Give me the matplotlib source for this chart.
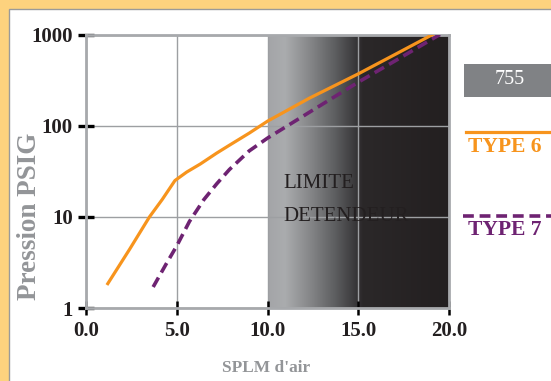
import numpy as np
import matplotlib
matplotlib.use("Agg")
import matplotlib.pyplot as plt
from matplotlib.colors import LinearSegmentedColormap
from matplotlib.patches import Rectangle
from matplotlib.lines import Line2D

# data
type6_x = [1.2, 2.4, 3.5, 4.2, 4.9, 5.55, 6.3, 7.2, 7.9, 9.0, 10.0, 12.3, 15.0, 17.0, 19.1]
type6_y = [1.85, 4.4, 10, 15.5, 25, 31, 38, 50, 61, 83, 112, 200, 370, 600, 1000]
type7_x = [3.7, 4.4, 5.0, 5.7, 6.5, 7.2, 7.9, 9.0, 10.0, 12.3, 15.0, 17.0, 19.5]
type7_y = [1.7, 3.0, 4.8, 8.9, 15.5, 23, 33, 53, 73, 140, 300, 510, 1000]

xticks = [0, 5, 10, 15, 20]
xlabels = ["0.0", "5.0", "10.0", "15.0", "20.0"]
yticks = [1, 10, 100, 1000]
ylabels = ["1", "10", "100", "1000"]
zone_start, zone_end = 10, 20

orange = "#f7941d"
purple = "#6e2372"
grey_txt = "#939598"
serif = ["Liberation Serif", "DejaVu Serif"]

plt.rcParams["font.family"] = serif

W, H = 551, 381
fig = plt.figure(figsize=(W / 100, H / 100), dpi=100)
fig.patch.set_facecolor("#fdd27e")
# white panel inside the orange frame
fig.patches.append(Rectangle((8.5 / W, -0.1), 1.2, 1.1 - 8.5 / H,
                             transform=fig.transFigure, facecolor="white",
                             edgecolor="#9a9a9a", linewidth=1, zorder=-5))

ax = fig.add_axes([86 / W, 1 - 308 / H, 363 / W, 273.5 / H])
ax.set_zorder(1)
ax.set_yscale("log")
ax.set_xlim(0, 20)
ax.set_ylim(1, 1000)

# shaded "limite detendeur" zone
cmap = LinearSegmentedColormap.from_list(
    "zone", [(0.0, "#a4a5a8"), (0.09, "#aaacae"), (0.23, "#858688"),
             (0.37, "#5c5d5f"), (0.47, "#3c3b3d"), (0.52, "#2b2829"),
             (1.0, "#231f20")])
grad = np.linspace(0, 1, 256).reshape(1, -1)
ax.imshow(grad, cmap=cmap, aspect="auto", extent=(zone_start, zone_end, 0, 1),
          transform=ax.get_xaxis_transform(), zorder=0, interpolation="bilinear")

ax.grid(True, which="major", color="#9d9fa2", linewidth=1, zorder=1)
ax.set_axisbelow(True)

ax.plot(type7_x, type7_y, color=purple, linewidth=2.6, dashes=(3.0, 1.6),
        zorder=3, solid_capstyle="butt")
ax.plot(type6_x, type6_y, color=orange, linewidth=2.3, zorder=4)

ax.text(10.85, 23.5, "LIMITE", color="#231f20", fontsize=15, va="center",
        ha="left", zorder=5)
ax.text(10.85, 10.1, "DETENDEUR", color="#231f20", fontsize=15, va="center",
        ha="left", zorder=5)

for s in ax.spines.values():
    s.set_color("#a7a9ac")
    s.set_linewidth(2)

ax.set_xticks(xticks)
ax.set_xticklabels(xlabels)
ax.set_yticks(yticks)
ax.set_yticklabels(ylabels)
ax.yaxis.set_minor_locator(matplotlib.ticker.NullLocator())
ax.tick_params(axis="y", direction="inout", length=11, width=2.4, color="black",
               labelsize=15, pad=4)
ax.tick_params(axis="x", direction="inout", length=10, width=1.8, color="black",
               labelsize=15, pad=4)
for lab in ax.get_xticklabels() + ax.get_yticklabels():
    lab.set_fontweight("bold")
    lab.set_color("#231f20")

fig.text(30 / W, 1 - 216 / H, "Pression PSIG", rotation=90, color=grey_txt,
         fontsize=19.5, fontweight="bold", ha="center", va="center")
fig.text(266 / W, 1 - 368 / H, "SPLM d'air", color=grey_txt, fontsize=12.5,
         fontweight="bold", ha="center", va="center")

# side key
fig.patches.append(Rectangle((464 / W, 1 - 97 / H), 0.2, 33 / H,
                             transform=fig.transFigure, facecolor="#808285",
                             edgecolor="none", zorder=2))
fig.text(510 / W, 1 - 79 / H, "755", color="white", fontsize=14.5,
         ha="center", va="center", zorder=3)
fig.lines.append(Line2D([466 / W, 1.0], [1 - 132 / H] * 2, transform=fig.transFigure,
                        color=orange, linewidth=2.3))
fig.text(468 / W, 1 - 147 / H, "TYPE 6", color=orange, fontsize=15.5,
         fontweight="bold", ha="left", va="center")
fig.lines.append(Line2D([463 / W, 1.0], [1 - 216 / H] * 2, transform=fig.transFigure,
                        color=purple, linewidth=2.6, dashes=(3.0, 1.6)))
fig.text(468 / W, 1 - 230 / H, "TYPE 7", color=purple, fontsize=15.5,
         fontweight="bold", ha="left", va="center")

fig.savefig("out.png", dpi=100)
